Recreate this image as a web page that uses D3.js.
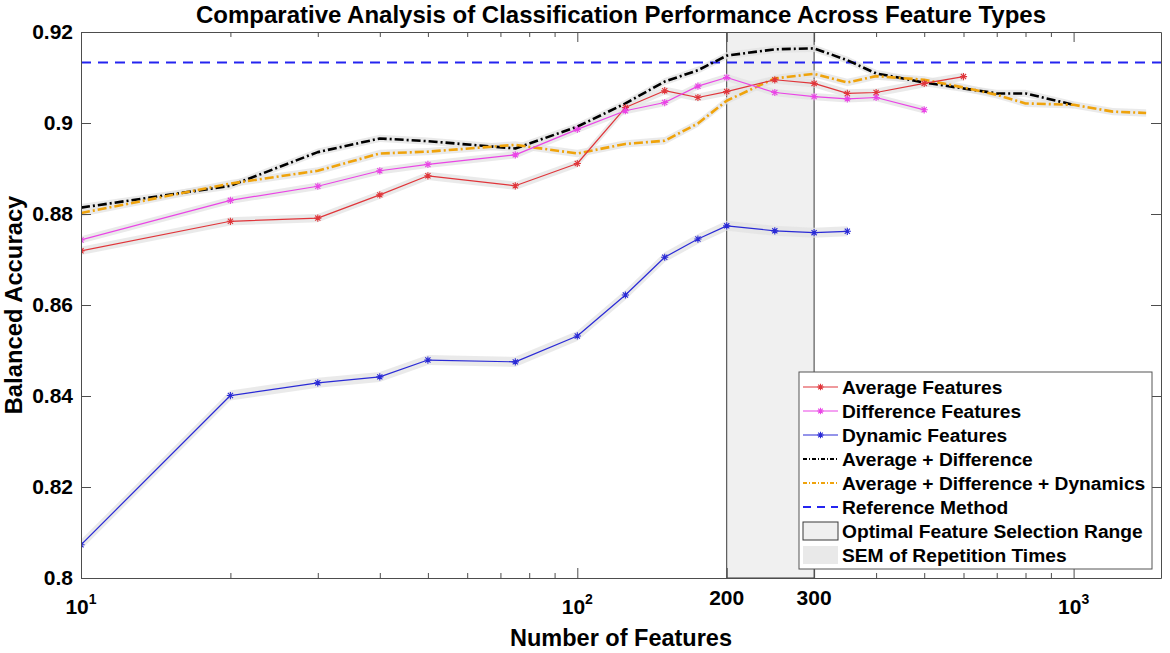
<!DOCTYPE html>
<html>
<head>
<meta charset="utf-8">
<script src="https://cdn.jsdelivr.net/npm/d3@7"></script>
<style>
  html, body { margin: 0; padding: 0; background: #fff; }
  svg { display: block; font-family: "Liberation Sans", Arial, Helvetica, sans-serif; font-weight: bold; }
</style>
</head>
<body>
<svg id="chart" width="1170" height="653"></svg>
<script>
// ---------------- DATA ----------------
const featuresAvg = [10, 20, 30, 40, 50, 75, 100, 125, 150, 175, 200, 250, 300, 350, 400, 500, 600];
const averageFeatures = [0.8719, 0.8784, 0.8791, 0.8842, 0.8884, 0.8862, 0.8911, 0.9034, 0.9071, 0.9056, 0.9069, 0.9095, 0.9087, 0.9065, 0.9067, 0.9087, 0.9102];

const featuresDiff = [10, 20, 30, 40, 50, 75, 100, 125, 150, 175, 200, 250, 300, 350, 400, 500];
const differenceFeatures = [0.8743, 0.8830, 0.8861, 0.8895, 0.8909, 0.8930, 0.8986, 0.9027, 0.9045, 0.9081, 0.9100, 0.9067, 0.9058, 0.9053, 0.9056, 0.9029];

const featuresDyn = [10, 20, 30, 40, 50, 75, 100, 125, 150, 175, 200, 250, 300, 350];
const dynamicFeatures = [0.8073, 0.8401, 0.8429, 0.8442, 0.8479, 0.8475, 0.8532, 0.8622, 0.8705, 0.8745, 0.8774, 0.8763, 0.8759, 0.8762];

const featuresAvgDiff = [10, 20, 30, 40, 50, 75, 100, 125, 150, 175, 200, 250, 300, 350, 400, 500, 600, 700, 800, 1000];
const averagePlusDifference = [0.8814, 0.8862, 0.8936, 0.8966, 0.8960, 0.8944, 0.8992, 0.9043, 0.9091, 0.9116, 0.9148, 0.9162, 0.9164, 0.9138, 0.9109, 0.9089, 0.9076, 0.9065, 0.9065, 0.9040];

const featuresAll = [10, 20, 30, 40, 50, 75, 100, 125, 150, 175, 200, 250, 300, 350, 400, 500, 600, 700, 800, 1000, 1200, 1400];
const averageDifferenceDynamics = [0.8802, 0.8867, 0.8895, 0.8933, 0.8937, 0.8952, 0.8933, 0.8954, 0.8961, 0.8999, 0.9049, 0.9098, 0.9108, 0.9089, 0.9103, 0.9095, 0.9078, 0.9062, 0.9043, 0.9040, 0.9025, 0.9022];

// SEM (half-width of the shaded band) per series
const semValues = [0.0009, 0.0008, 0.0011, 0.0008, 0.0008];

const referenceAccuracy = 0.9133;
const optimalRange = [200, 300];

const xTickValues = [10, 100, 200, 300, 1000];
const xMinorTicks = [20, 30, 40, 50, 60, 70, 80, 90, 400, 500, 600, 700, 800, 900];
const yTickValues = [0.8, 0.82, 0.84, 0.86, 0.88, 0.9, 0.92];
const yTickLabels = ["0.8", "0.82", "0.84", "0.86", "0.88", "0.9", "0.92"];

const seriesNames = ["Average Features", "Difference Features", "Dynamic Features",
  "Average + Difference", "Average + Difference + Dynamics"];
const legendExtra = ["Reference Method", "Optimal Feature Selection Range", "SEM of Repetition Times"];

const titleText = "Comparative Analysis of Classification Performance Across Feature Types";
const xLabelText = "Number of Features";
const yLabelText = "Balanced Accuracy";

// ---------------- LAYOUT ----------------
const svg = d3.select("#chart");
const L = 81, R = 1161, T = 32, B = 578;
const x = d3.scaleLog().domain([10, 1500]).range([L, R]);
const y = d3.scaleLinear().domain([0.8, 0.92]).range([B, T]);
const axisColor = "#4d4d4d";

const series = [
  { name: seriesNames[0], xs: featuresAvg, ys: averageFeatures, color: "#e0353a", width: 1.2, dash: null, marker: true },
  { name: seriesNames[1], xs: featuresDiff, ys: differenceFeatures, color: "#ea45e6", width: 1.2, dash: null, marker: true },
  { name: seriesNames[2], xs: featuresDyn, ys: dynamicFeatures, color: "#2a2ad6", width: 1.2, dash: null, marker: true },
  { name: seriesNames[3], xs: featuresAvgDiff, ys: averagePlusDifference, color: "#000000", width: 2.6, dash: "9,3,2,3", marker: false },
  { name: seriesNames[4], xs: featuresAll, ys: averageDifferenceDynamics, color: "#efa30c", width: 2.6, dash: "9,3,2,3", marker: false }
];
series.forEach((s, i) => { s.sem = semValues[i]; s.pts = s.xs.map((v, j) => ({ x: v, y: s.ys[j] })); });

svg.append("defs").append("clipPath").attr("id", "plotclip")
  .append("rect").attr("x", L).attr("y", T).attr("width", R - L).attr("height", B - T);

const plot = svg.append("g").attr("clip-path", "url(#plotclip)");

// optimal range rect
plot.append("rect")
  .attr("x", x(optimalRange[0])).attr("y", T)
  .attr("width", x(optimalRange[1]) - x(optimalRange[0])).attr("height", B - T)
  .attr("fill", "#f0f0f0").attr("stroke", "#3a3a3a").attr("stroke-width", 1);

// SEM bands
const area = d3.area().x(d => x(d.x));
series.forEach(s => {
  plot.append("path").datum(s.pts)
    .attr("d", area.y0(d => y(d.y - s.sem)).y1(d => y(d.y + s.sem)))
    .attr("fill", "#e3e3e3").attr("fill-opacity", 0.75);
});

// reference line
plot.append("line")
  .attr("x1", L).attr("x2", R).attr("y1", y(referenceAccuracy)).attr("y2", y(referenceAccuracy))
  .attr("stroke", "#2424f0").attr("stroke-width", 2).attr("stroke-dasharray", "10,7");

// lines
const line = d3.line().x(d => x(d.x)).y(d => y(d.y));
function asterisk(g, cx, cy, r, color) {
  const d = r * 0.72;
  g.append("path")
    .attr("d", `M${cx - r},${cy}H${cx + r}M${cx},${cy - r}V${cy + r}M${cx - d},${cy - d}L${cx + d},${cy + d}M${cx - d},${cy + d}L${cx + d},${cy - d}`)
    .attr("stroke", color).attr("stroke-width", 1.1).attr("fill", "none");
}
[3, 4, 0, 1, 2].forEach(i => {
  const s = series[i];
  plot.append("path").datum(s.pts).attr("d", line)
    .attr("fill", "none").attr("stroke", s.color).attr("stroke-width", s.width)
    .attr("stroke-dasharray", s.dash).attr("stroke-linejoin", "round");
  if (s.marker) {
    const mg = plot.append("g");
    s.pts.forEach(p => asterisk(mg, x(p.x), y(p.y), 3.6, s.color));
  }
});

// ---------------- AXES ----------------
function styleAxis(g) {
  g.selectAll("path.domain").attr("stroke", axisColor).attr("stroke-width", 1);
  g.selectAll(".tick line").attr("stroke", axisColor).attr("stroke-width", 1);
}
const gxB = svg.append("g").attr("transform", `translate(0,${B})`)
  .call(d3.axisBottom(x).tickValues(xTickValues).tickSizeInner(-10).tickSizeOuter(0).tickFormat(""));
styleAxis(gxB);
const gxBm = svg.append("g").attr("transform", `translate(0,${B})`)
  .call(d3.axisBottom(x).tickValues(xMinorTicks).tickSizeInner(-5).tickSizeOuter(0).tickFormat(""));
styleAxis(gxBm); gxBm.select("path.domain").remove();
const gxT = svg.append("g").attr("transform", `translate(0,${T})`)
  .call(d3.axisTop(x).tickValues(xTickValues).tickSizeInner(-10).tickSizeOuter(0).tickFormat(""));
styleAxis(gxT);
const gxTm = svg.append("g").attr("transform", `translate(0,${T})`)
  .call(d3.axisTop(x).tickValues(xMinorTicks).tickSizeInner(-5).tickSizeOuter(0).tickFormat(""));
styleAxis(gxTm); gxTm.select("path.domain").remove();
const gyL = svg.append("g").attr("transform", `translate(${L},0)`)
  .call(d3.axisLeft(y).tickValues(yTickValues).tickSizeInner(-10).tickSizeOuter(0)
    .tickPadding(8).tickFormat((d, i) => yTickLabels[i]));
styleAxis(gyL);
gyL.selectAll(".tick text").attr("fill", "#000").attr("font-size", 21)
  .attr("font-family", "'Liberation Sans', Arial, sans-serif").attr("font-weight", "bold");
const gyR = svg.append("g").attr("transform", `translate(${R},0)`)
  .call(d3.axisRight(y).tickValues(yTickValues).tickSizeInner(-10).tickSizeOuter(0).tickFormat(""));
styleAxis(gyR);

// x tick labels
const xLab = svg.append("g").attr("fill", "#000").attr("font-size", 21);
xTickValues.forEach(v => {
  const p = Math.log10(v);
  if (Number.isInteger(p)) {
    const t = xLab.append("text").attr("x", x(v)).attr("y", 614).attr("text-anchor", "middle");
    t.append("tspan").text("10");
    t.append("tspan").attr("font-size", 14).attr("dy", -10).text(String(p));
  } else {
    xLab.append("text").attr("x", x(v)).attr("y", 605).attr("text-anchor", "middle").text(String(v));
  }
});

// titles
svg.append("text").attr("x", (L + R) / 2).attr("y", 23).attr("text-anchor", "middle")
  .attr("font-size", 24).attr("fill", "#000").text(titleText);
svg.append("text").attr("x", (L + R) / 2).attr("y", 646).attr("text-anchor", "middle")
  .attr("font-size", 23.5).attr("fill", "#000").text(xLabelText);
svg.append("text").attr("transform", `translate(22,${(T + B) / 2}) rotate(-90)`).attr("text-anchor", "middle")
  .attr("font-size", 23.8).attr("fill", "#000").text(yLabelText);

// ---------------- LEGEND ----------------
const lg = svg.append("g");
const lx = 799, ly = 372, lw = 353, lh = 197;
lg.append("rect").attr("x", lx).attr("y", ly).attr("width", lw).attr("height", lh)
  .attr("fill", "#fff").attr("stroke", "#555").attr("stroke-width", 1);
const rowY = i => 387 + i * 24;
const sx0 = 803, sx1 = 838, tx = 842;
series.forEach((s, i) => {
  const yy = rowY(i);
  lg.append("line").attr("x1", sx0).attr("x2", sx1).attr("y1", yy).attr("y2", yy)
    .attr("stroke", s.color).attr("stroke-width", s.marker ? 1.2 : 2).attr("stroke-dasharray", s.dash ? "4,2,1,2" : null);
  if (s.marker) asterisk(lg, (sx0 + sx1) / 2, yy, 3.2, s.color);
});
lg.append("line").attr("x1", sx0).attr("x2", sx1).attr("y1", rowY(5)).attr("y2", rowY(5))
  .attr("stroke", "#2424f0").attr("stroke-width", 2).attr("stroke-dasharray", "8,6");
lg.append("rect").attr("x", sx0).attr("y", rowY(6) - 9).attr("width", sx1 - sx0).attr("height", 18)
  .attr("fill", "#f0f0f0").attr("stroke", "#3a3a3a").attr("stroke-width", 1);
lg.append("rect").attr("x", sx0).attr("y", rowY(7) - 9).attr("width", sx1 - sx0).attr("height", 18)
  .attr("fill", "#e9e9e9");
const allNames = seriesNames.concat(legendExtra);
allNames.forEach((n, i) => {
  lg.append("text").attr("x", tx).attr("y", rowY(i)).attr("dy", "0.35em")
    .attr("font-size", 19.2).attr("fill", "#000").text(n);
});
</script>
</body>
</html>
